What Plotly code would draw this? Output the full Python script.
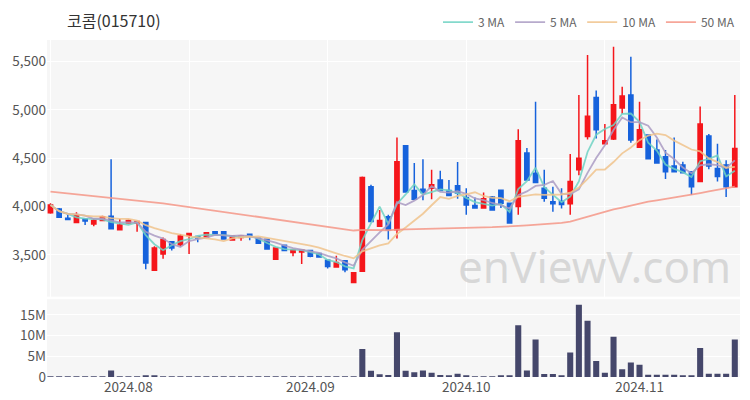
import plotly.graph_objects as go
import pandas as pd

dates = [
    "2024-07-19", "2024-07-22", "2024-07-23", "2024-07-24", "2024-07-25", "2024-07-26",
    "2024-07-29", "2024-07-30", "2024-07-31",
    "2024-08-01", "2024-08-02", "2024-08-05", "2024-08-06", "2024-08-07", "2024-08-08",
    "2024-08-09", "2024-08-12", "2024-08-13", "2024-08-14", "2024-08-16", "2024-08-19",
    "2024-08-20", "2024-08-21", "2024-08-22", "2024-08-23", "2024-08-26", "2024-08-27",
    "2024-08-28", "2024-08-29", "2024-08-30",
    "2024-09-02", "2024-09-03", "2024-09-04", "2024-09-05", "2024-09-06", "2024-09-09",
    "2024-09-10", "2024-09-11", "2024-09-12", "2024-09-13", "2024-09-19", "2024-09-20",
    "2024-09-23", "2024-09-24", "2024-09-25", "2024-09-26", "2024-09-27", "2024-09-30",
    "2024-10-02", "2024-10-04", "2024-10-07", "2024-10-08", "2024-10-10", "2024-10-11",
    "2024-10-14", "2024-10-15", "2024-10-16", "2024-10-17", "2024-10-18", "2024-10-21",
    "2024-10-22", "2024-10-23", "2024-10-24", "2024-10-25", "2024-10-28", "2024-10-29",
    "2024-10-30", "2024-10-31",
    "2024-11-01", "2024-11-04", "2024-11-05", "2024-11-06", "2024-11-07", "2024-11-08",
    "2024-11-11", "2024-11-12", "2024-11-13", "2024-11-14", "2024-11-15", "2024-11-18",
]

opens = [3935, 3975, 3880, 3835, 3870, 3820, 3855, 3900, 3760, 3830,
         3830, 3835, 3340, 3510, 3635, 3605, 3700, 3690, 3685, 3740,
         3740, 3655, 3680, 3713, 3672, 3662, 3455, 3600, 3525, 3530,
         3545, 3515, 3445, 3375, 3440, 3215, 3330, 4205, 3795, 3895,
         3760, 4630, 4165, 4180, 4190, 4275, 4165, 4215, 4095, 4010,
         3985, 4100, 4170, 4035, 4000, 4555, 4345, 4190, 4050, 4055,
         4030, 4380, 4725, 5130, 4650, 4700, 5020, 5155, 4615, 4740,
         4585, 4515, 4420, 4430, 4360, 4260, 4730, 4395, 4430, 4205]
highs = [4035, 3985, 3915, 3940, 3872, 3870, 3905, 4490, 3870, 3865,
         3850, 3840, 3590, 3680, 3640, 3715, 3725, 3695, 3735, 3742,
         3745, 3700, 3700, 3715, 3675, 3665, 3575, 3605, 3555, 3555,
         3550, 3520, 3450, 3490, 3445, 3320, 4310, 4225, 3965, 3915,
         4715, 4635, 4450, 4490, 4380, 4370, 4275, 4460, 4190, 4095,
         4145, 4110, 4175, 4040, 4800, 4605, 5085, 4380, 4205, 4190,
         4545, 5155, 5570, 5200, 4855, 5655, 5240, 5550, 5085, 4745,
         4695, 4585, 4715, 4465, 4365, 5035, 4750, 4650, 4480, 5155]
lows = [3925, 3885, 3860, 3830, 3810, 3795, 3850, 3765, 3755, 3825,
        3740, 3350, 3335, 3460, 3545, 3585, 3510, 3630, 3680, 3710,
        3660, 3650, 3647, 3650, 3615, 3555, 3450, 3540, 3485, 3405,
        3475, 3470, 3360, 3370, 3320, 3210, 3325, 3840, 3790, 3660,
        3670, 4145, 4070, 4065, 4075, 4160, 4110, 4080, 3915, 3980,
        3980, 3960, 3985, 3825, 3915, 4270, 4245, 4050, 3945, 3980,
        3915, 4325, 4695, 4705, 4645, 4690, 4960, 4660, 4610, 4490,
        4445, 4285, 4355, 4345, 4120, 4255, 4385, 4260, 4100, 4200]
closes = [4015, 3890, 3865, 3910, 3850, 3855, 3895, 3770, 3810, 3855,
          3845, 3415, 3570, 3660, 3570, 3695, 3720, 3675, 3730, 3718,
          3665, 3695, 3695, 3690, 3620, 3560, 3570, 3545, 3550, 3550,
          3485, 3478, 3380, 3420, 3345, 3315, 4300, 3845, 3855, 3760,
          4465, 4150, 4075, 4145, 4225, 4165, 4115, 4140, 4015, 3985,
          4080, 3965, 4035, 3830, 4680, 4275, 4250, 4085, 4030, 4020,
          4260, 4500, 4935, 4795, 4680, 5055, 5145, 4690, 4795, 4495,
          4450, 4360, 4360, 4350, 4205, 4855, 4420, 4310, 4205, 4600]
volumes = [150000, 100000, 100000, 100000, 50000, 100000, 100000, 1600000, 150000, 100000,
           100000, 250000, 200000, 100000, 50000, 100000, 100000, 50000, 50000, 40000,
           50000, 40000, 50000, 40000, 50000, 60000, 80000, 50000, 40000, 60000,
           50000, 40000, 60000, 50000, 70000, 100000, 6800000, 1500000, 650000, 500000,
           10800000, 1500000, 1150000, 1550000, 1000000, 500000, 300000, 800000, 250000, 150000,
           120000, 150000, 200000, 250000, 12500000, 1550000, 9100000, 750000, 750000, 400000,
           5900000, 17500000, 13600000, 3900000, 1050000, 9750000, 1900000, 3500000, 2950000, 550000,
           550000, 550000, 550000, 200000, 200000, 7000000, 800000, 800000, 800000, 9100000]
ma50 = [4155, 4146, 4137, 4128, 4118, 4109, 4100, 4091, 4081, 4072,
        4063, 4053, 4044, 4034, 4021, 4008, 3995, 3982, 3969, 3956,
        3943, 3930, 3917, 3904, 3891, 3878, 3865, 3852, 3840, 3827,
        3815, 3802, 3790, 3777, 3765, 3752, 3758, 3757, 3756, 3755,
        3762, 3765, 3766, 3768, 3771, 3773, 3775, 3778, 3780, 3782,
        3785, 3787, 3790, 3792, 3800, 3806, 3812, 3818, 3824, 3832,
        3844, 3870, 3900, 3925, 3948, 3970, 3990, 4012, 4034, 4050,
        4064, 4078, 4092, 4106, 4120, 4140, 4156, 4173, 4190, 4206]

month_ticks = ["2024-08-01", "2024-09-02", "2024-10-02", "2024-11-01"]
month_labels = ["2024.08", "2024.09", "2024.10", "2024.11"]
grid_ticks = ["2024-07-19", "2024-08-12", "2024-09-04", "2024-10-02", "2024-10-28"]
price_ticks = [3500, 4000, 4500, 5000, 5500]
vol_ticks = [0, 5000000, 10000000, 15000000]

title_text = "코콤(015710)"
watermark = "enViewV.com"

s = pd.Series(closes, dtype=float)
ma3 = s.rolling(3, min_periods=1).mean()
ma5 = s.rolling(5, min_periods=1).mean()
ma10 = s.rolling(10, min_periods=1).mean()

FONT = "Noto Sans CJK KR"
RED = "#f5161b"
BLUE = "#1662dc"

fig = go.Figure()
fig.add_trace(go.Candlestick(
    x=dates, open=opens, high=highs, low=lows, close=closes,
    increasing=dict(line=dict(color=RED, width=1.5), fillcolor=RED),
    decreasing=dict(line=dict(color=BLUE, width=1.5), fillcolor=BLUE),
    whiskerwidth=0, showlegend=False, xaxis="x", yaxis="y",
))
ma_specs = [("3 MA", ma3, "rgba(110,210,195,0.85)"),
            ("5 MA", ma5, "rgba(170,155,195,0.85)"),
            ("10 MA", ma10, "rgba(240,195,140,0.85)"),
            ("50 MA", ma50, "rgba(245,150,135,0.85)")]
for name, vals, col in ma_specs:
    fig.add_trace(go.Scatter(x=dates, y=list(vals), mode="lines", name=name,
                             line=dict(color=col, width=1.8), xaxis="x", yaxis="y",
                             hoverinfo="skip"))
fig.add_trace(go.Bar(x=dates, y=volumes, marker=dict(color="#45476b", line=dict(width=0)),
                     showlegend=False, xaxis="x2", yaxis="y2"))

fig.update_layout(
    width=750, height=400,
    margin=dict(l=47, r=10, t=40, b=23, autoexpand=False),
    paper_bgcolor="white", plot_bgcolor="#f6f6f6",
    font=dict(family=FONT, size=13.5, color="#555"),
    bargap=0.3,
    xaxis=dict(type="category", domain=[0, 1], range=[-0.4, 79.6], anchor="y",
               tickmode="array", tickvals=grid_ticks, showticklabels=False,
               showgrid=True, gridcolor="white", gridwidth=1, zeroline=False,
               rangeslider=dict(visible=False), fixedrange=True, automargin=False),
    xaxis2=dict(type="category", domain=[0, 1], range=[-0.4, 79.6], anchor="y2",
                matches="x", tickmode="array", tickvals=month_ticks, ticktext=month_labels,
                showgrid=False, zeroline=False, automargin=False,
                tickfont=dict(size=13.5, color="#555")),
    yaxis=dict(domain=[0.2383, 1], range=[3067, 5724], tickmode="array",
               tickvals=price_ticks, tickformat=",", showgrid=True, gridcolor="white",
               gridwidth=1, zeroline=False, automargin=False,
               tickfont=dict(size=13.5, color="#555")),
    yaxis2=dict(domain=[0, 0.2306], range=[0, 18800000], tickmode="array",
                tickvals=vol_ticks, tickformat="~s", showgrid=True, gridcolor="white",
                zeroline=False, automargin=False, tickfont=dict(size=13.5, color="#555")),
    legend=dict(orientation="h", x=1.0, xanchor="right", y=1.053, yanchor="middle",
                font=dict(size=12, color="#666"), bgcolor="rgba(0,0,0,0)",
                itemwidth=30),
    annotations=[
        dict(text=title_text, xref="paper", yref="paper", x=0.026, y=1.059,
             xanchor="left", yanchor="middle", showarrow=False,
             font=dict(size=16, color="#333", family=FONT)),
        dict(text=watermark, xref="paper", yref="paper", x=0.99, y=0.33,
             xanchor="right", yanchor="middle", showarrow=False,
             font=dict(size=44, color="rgba(195,195,195,0.6)", family="Noto Sans")),
    ],
)

fig.write_html("out.html", config={"displayModeBar": False},
               post_script="document.body.style.margin='0';document.body.style.padding='0';")
